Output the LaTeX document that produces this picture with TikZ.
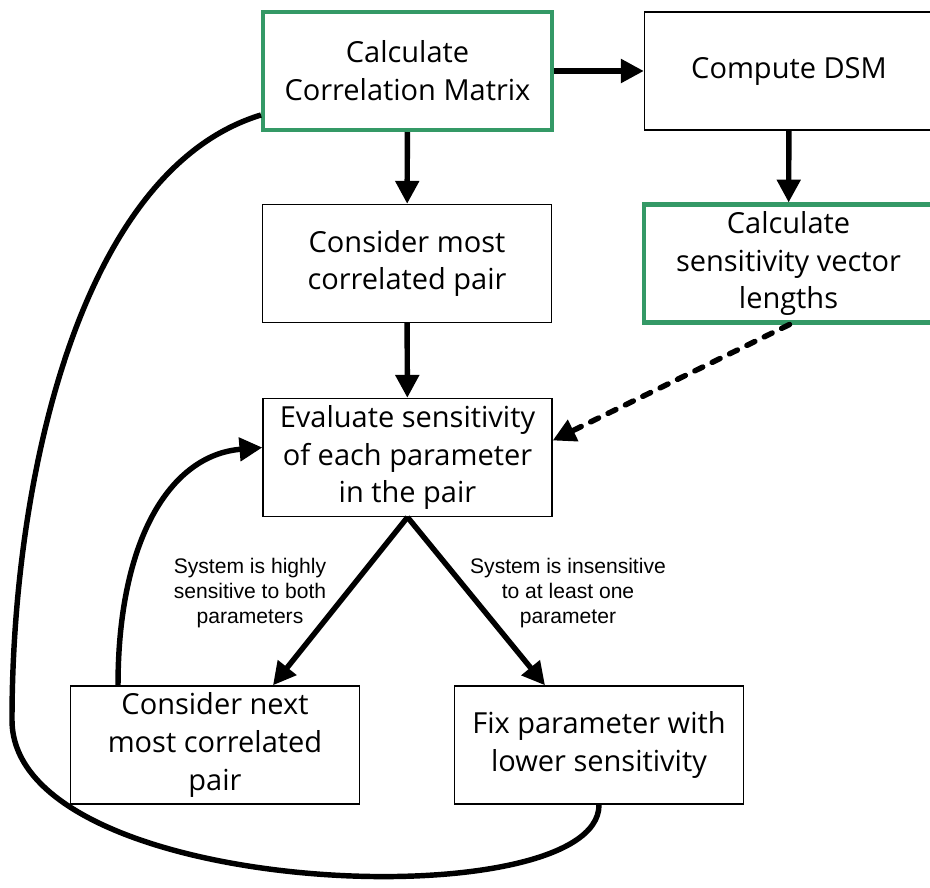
\documentclass[tikz,border=0pt]{standalone}
\usepackage{fontspec}
\setmainfont{Open Sans}
\newfontfamily\labelfont{Liberation Sans}
\usetikzlibrary{arrows.meta}
\definecolor{boxgreen}{RGB}{52,153,102}
\begin{document}
\begin{tikzpicture}[x=0.02cm, y=-0.02cm,
box/.style={draw, line width=0.8pt, minimum width=5.78cm, minimum height=2.36cm, align=center, font=\fontsize{16.5}{21.5}\selectfont},
greenbox/.style={box, draw=boxgreen, line width=2.3pt},
flow/.style={line width=3.1pt, -{Triangle[length=13pt,width=13pt]}},
lbl/.style={align=center, font=\labelfont\fontsize{12}{14.2}\selectfont}]
\useasboundingbox (0,0) rectangle (930,888);
\node[greenbox] (corr) at (407.5,71) {Calculate\\Correlation Matrix};
\node[box] (dsm) at (789,71) {Compute DSM};
\node[box] (pair) at (407,263.5) {Consider most\\correlated pair};
\node[greenbox] (lengths) at (788.5,263.5) {Calculate\\sensitivity vector\\lengths};
\node[box] (eval) at (407.5,457.5) {Evaluate sensitivity\\of each parameter\\in the pair};
\node[box] (next) at (215,745) {Consider next\\most correlated\\pair};
\node[box] (fix) at (599,745) {Fix parameter with\\lower sensitivity};
\node[lbl] (high) at (250,593) {System is highly\\sensitive to both\\parameters};
\node[lbl] (insens) at (568,593) {System is insensitive\\to at least one\\parameter};
% main flow
\draw[flow] (corr) -- (dsm);
\draw[flow] (corr) -- (pair);
\draw[flow] (dsm) -- (lengths);
\draw[flow] (pair) -- (eval);
\draw[flow, dash pattern=on 5pt off 6pt, line cap=round] ([xshift=0.02cm]lengths.south) -- ([yshift=0.34cm]eval.east);
\draw[flow] (eval.south) -- ([xshift=1.16cm]next.north);
\draw[flow] (eval.south) -- ([xshift=-1.08cm]fix.north);
% loops back
\draw[flow] ([xshift=-1.94cm]next.north) .. controls (118,540) and (170,455) .. ([yshift=0.2cm]eval.west);
\draw[line width=3.1pt] (fix.south) .. controls (600,920) and (12,900) .. (12,720)
  .. controls (12,480) and (80,170) .. ([yshift=-0.88cm]corr.west);
\end{tikzpicture}
\end{document}
